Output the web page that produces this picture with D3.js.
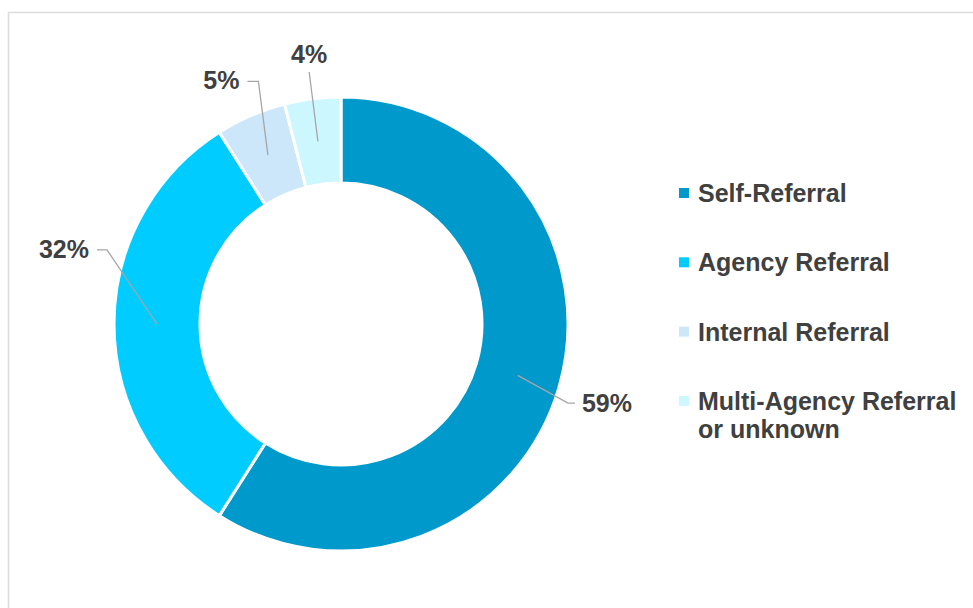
<!DOCTYPE html>
<html>
<head>
<meta charset="utf-8">
<script src="https://cdn.jsdelivr.net/npm/d3@7"></script>
<style>
  html, body { margin: 0; padding: 0; background: #ffffff; }
  svg { display: block; font-family: "Liberation Sans", Arial, sans-serif; }
</style>
</head>
<body>
<svg id="chart" width="973" height="608"></svg>
<script>
// Referral sources, share of total (%)
const categories = ["Self-Referral", "Agency Referral", "Internal Referral", "Multi-Agency Referral or unknown"];
const values = [59, 32, 5, 4];
const colors = ["#0099CC", "#00CCFF", "#CCE6FA", "#CCF7FF"];
// Legend text split onto lines
const legendLines = [["Self-Referral"], ["Agency Referral"], ["Internal Referral"], ["Multi-Agency Referral", "or unknown"]];

// Placement of each percentage label: polar angle (deg, clockwise from top),
// radius of the leader end, horizontal elbow length, and text side.
const labelLayout = [
  { angle: 108.7, radius: 247, elbow: 7,  side: "right" },
  { angle: 286.9, radius: 255, elbow: 10, side: "left" },
  { angle: 338.9, radius: 260, elbow: 11, side: "left" },
  { angle: 352.8, radius: 254, elbow: 0,  side: "top" }
];

const svg = d3.select("#chart");
const W = 973, H = 608;
const fontSize = 25;

// Card frame
svg.append("rect")
  .attr("x", 8.5).attr("y", 12.5)
  .attr("width", W + 20).attr("height", H + 20)
  .attr("fill", "#ffffff")
  .attr("stroke", "#dcdcdc").attr("stroke-width", 1.5);

const cx = 341, cy = 324;
const outerR = 227, innerR = 141;

const pie = d3.pie().sort(null).value(d => d)(values);
const arc = d3.arc().innerRadius(innerR).outerRadius(outerR);

const g = svg.append("g").attr("transform", `translate(${cx},${cy})`);

g.selectAll("path.slice")
  .data(pie)
  .join("path")
  .attr("class", "slice")
  .attr("d", arc)
  .attr("fill", (d, i) => colors[i])
  .attr("stroke", "#ffffff")
  .attr("stroke-width", 3)
  .attr("stroke-linejoin", "round");

// Leader lines and percentage labels
const toRad = a => a * Math.PI / 180;
pie.forEach((d, i) => {
  const L = labelLayout[i];
  const [ax, ay] = arc.centroid(d);
  const ex = L.radius * Math.sin(toRad(L.angle));
  const ey = -L.radius * Math.cos(toRad(L.angle));
  // elbow runs back toward the centre
  const dir = ex > 0 ? -1 : 1;
  const bx = ex + dir * L.elbow, by = ey;

  g.append("path")
    .attr("d", d3.line()([[ax, ay], [bx, by], [ex, ey]]))
    .attr("fill", "none")
    .attr("stroke", "#a6a6a6")
    .attr("stroke-width", 1.3);

  const t = g.append("text")
    .attr("fill", "#404040")
    .attr("font-size", fontSize)
    .attr("font-weight", "bold")
    .text(values[i] + "%");
  if (L.side === "right") {
    t.attr("x", ex + 7).attr("y", ey + 9).attr("text-anchor", "start");
  } else if (L.side === "left") {
    t.attr("x", ex - 8).attr("y", ey + 8).attr("text-anchor", "end");
  } else {
    t.attr("x", ex).attr("y", ey - 9).attr("text-anchor", "middle");
  }
});

// Legend
const legend = svg.append("g").attr("transform", "translate(679,202)");
const rowStep = 69.3, lineStep = 28;
legendLines.forEach((lines, i) => {
  const row = legend.append("g").attr("transform", `translate(0,${i * rowStep})`);
  row.append("rect")
    .attr("x", 0).attr("y", -14)
    .attr("width", 10).attr("height", 10)
    .attr("fill", colors[i]);
  const t = row.append("text")
    .attr("x", 19).attr("y", 0)
    .attr("fill", "#404040")
    .attr("font-size", fontSize)
    .attr("font-weight", "bold");
  lines.forEach((ln, j) => {
    t.append("tspan").attr("x", 19).attr("y", j * lineStep).text(ln);
  });
});
</script>
</body>
</html>
